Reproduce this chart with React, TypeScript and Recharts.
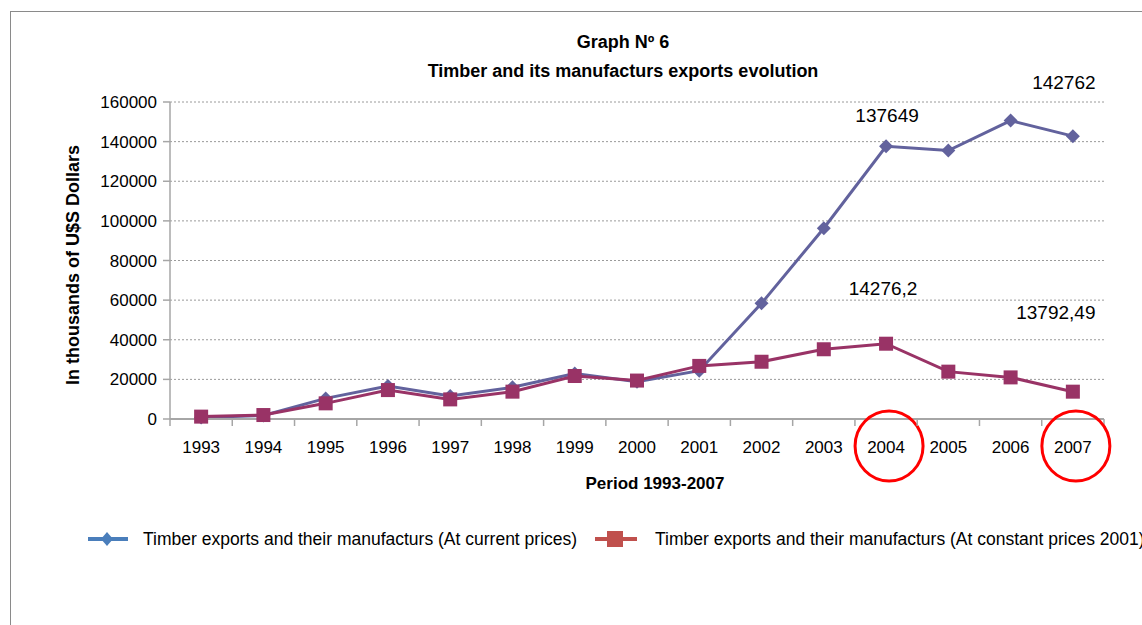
import React from 'react';
import { LineChart, Line, XAxis, YAxis, CartesianGrid, LabelList } from 'recharts';

const years = ['1993', '1994', '1995', '1996', '1997', '1998', '1999', '2000', '2001', '2002', '2003', '2004', '2005', '2006', '2007'];
const currentPrices = [800, 1800, 10400, 16600, 11600, 16000, 23000, 18800, 24400, 58400, 96300, 137649, 135500, 150600, 142762];
const constantPrices = [1200, 2000, 7900, 14600, 9900, 13800, 21700, 19400, 26800, 28900, 35200, 38000, 23900, 21000, 13792.49];
const yTicks = [0, 20000, 40000, 60000, 80000, 100000, 120000, 140000, 160000];
const currentLabels: Record<number, string> = { 11: '137649', 14: '142762' };
const constantLabels: Record<number, string> = { 11: '14276,2', 14: '13792,49' };
const circledYears = ['2004', '2007'];

const seriesCurrent = 'Timber exports and their manufacturs (At current prices)';
const seriesConstant = 'Timber exports and their manufacturs (At constant prices 2001)';

const data = years.map((y, i) => ({ year: y, current: currentPrices[i], constant: constantPrices[i] }));

const W = 1142;
const H = 625;
const M = { top: 102, right: 38, left: 0, bottom: 146 };
const Y_AXIS_W = 170;
const PLOT_W = W - M.left - M.right - Y_AXIS_W;
const BAND = PLOT_W / years.length;

const FONT = '"Liberation Sans", Arial, sans-serif';
const BLUE = '#62629D';
const RED = '#993366';

const XTick = (props: any) => {
  const { x, y, payload, index } = props;
  const half = BAND / 2;
  const circled = circledYears.includes(payload.value);
  return (
    <g>
      <line x1={x - half} x2={x - half} y1={y} y2={y + 7} stroke="#A6A6A6" strokeWidth={1.5} />
      {index === years.length - 1 && (
        <line x1={x + half} x2={x + half} y1={y} y2={y + 7} stroke="#A6A6A6" strokeWidth={1.5} />
      )}
      <text x={x} y={y + 28} textAnchor="middle" dy="0.36em" fontSize={17} fontFamily={FONT} fill="#000">
        {payload.value}
      </text>
      {circled && (
        <ellipse cx={x + 3} cy={y + 27} rx={34} ry={35} fill="none" stroke="#FF0000" strokeWidth={3} />
      )}
    </g>
  );
};

const diamondDot = (props: any) => {
  const { cx, cy, index } = props;
  const r = 7;
  return (
    <path key={`d-${index}`} d={`M${cx},${cy - r}L${cx + r},${cy}L${cx},${cy + r}L${cx - r},${cy}Z`} fill={BLUE} />
  );
};

const squareDot = (props: any) => {
  const { cx, cy, index } = props;
  const s = 7;
  return <rect key={`s-${index}`} x={cx - s} y={cy - s} width={2 * s} height={2 * s} fill={RED} />;
};

const makeLabel = (labels: Record<number, string>, offsets: Record<number, [number, number]>) => (props: any) => {
  const { x, y, index } = props;
  const t = labels[index];
  if (!t) return null;
  const [dx, dy] = offsets[index];
  return (
    <text x={x + dx} y={y + dy} textAnchor="middle" dy="0.36em" fontSize={19} fontFamily={FONT} fill="#000">
      {t}
    </text>
  );
};

const currentLabel = makeLabel(currentLabels, { 11: [1, -31], 14: [-9, -54] });
const constantLabel = makeLabel(constantLabels, { 11: [-3, -56], 14: [-17, -80] });

export default function App() {
  return (
    <div style={{ position: 'fixed', left: 0, top: 0, width: W, height: H, background: '#fff', overflow: 'hidden' }}>
      <div style={{ position: 'absolute', left: 10, top: 11, width: W, height: H, borderLeft: '1.5px solid #8a8a8a', borderTop: '1.5px solid #8a8a8a' }} />
      <div style={{ position: 'absolute', left: 0, width: 1246, top: 32, textAlign: 'center', fontFamily: FONT, fontWeight: 'bold', fontSize: 18, lineHeight: '20px' }}>
        Graph Nº 6
      </div>
      <div style={{ position: 'absolute', left: 0, width: 1246, top: 61, textAlign: 'center', fontFamily: FONT, fontWeight: 'bold', fontSize: 18, lineHeight: '20px' }}>
        Timber and its manufacturs exports evolution
      </div>
      <div style={{ position: 'absolute', left: 0, width: 1310, top: 474, textAlign: 'center', fontFamily: FONT, fontWeight: 'bold', fontSize: 17, lineHeight: '20px' }}>
        Period 1993-2007
      </div>
      <div style={{ position: 'absolute', left: 73 - 150, top: 265 - 10, width: 300, height: 20, textAlign: 'center', transform: 'rotate(-90deg)', fontFamily: FONT, fontWeight: 'bold', fontSize: 18, lineHeight: '20px' }}>
        In thousands of U$S Dollars
      </div>
      <LineChart width={W} height={H} data={data} margin={M} style={{ position: 'absolute', left: 0, top: 0 }}>
        <CartesianGrid vertical={false} stroke="#9a9a9a" strokeDasharray="2 2" />
        <XAxis
          dataKey="year"
          height={60}
          padding={{ left: BAND / 2, right: BAND / 2 }}
          tickSize={0}
          tickMargin={0}
          tickLine={false}
          axisLine={{ stroke: '#A6A6A6', strokeWidth: 2 }}
          tick={<XTick />}
          interval={0}
        />
        <YAxis
          width={Y_AXIS_W}
          domain={[0, 160000]}
          ticks={yTicks}
          interval={0}
          tickSize={7}
          tickMargin={6}
          axisLine={{ stroke: '#A6A6A6', strokeWidth: 1.5 }}
          tickLine={{ stroke: '#A6A6A6', strokeWidth: 1.5 }}
          tick={{ fontSize: 17, fontFamily: FONT, fill: '#000' }}
        />
        <Line dataKey="current" name={seriesCurrent} stroke={BLUE} strokeWidth={3} dot={diamondDot} activeDot={false} isAnimationActive={false}>
          <LabelList dataKey="current" content={currentLabel} />
        </Line>
        <Line dataKey="constant" name={seriesConstant} stroke={RED} strokeWidth={3} dot={squareDot} activeDot={false} isAnimationActive={false}>
          <LabelList dataKey="constant" content={constantLabel} />
        </Line>
      </LineChart>
      <div style={{ position: 'absolute', left: 0, top: 528, width: W, height: 22, fontFamily: FONT, fontSize: 17.5, lineHeight: '22px', whiteSpace: 'nowrap' }}>
        <svg style={{ position: 'absolute', left: 86, top: 0 }} width={44} height={22}>
          <line x1={2} x2={42} y1={11} y2={11} stroke="#4A7EBB" strokeWidth={4} />
          <path d="M21,4L27,11L21,18L15,11Z" fill="#4A7EBB" />
        </svg>
        <span style={{ position: 'absolute', left: 143, top: 0 }}>{seriesCurrent}</span>
        <svg style={{ position: 'absolute', left: 595, top: 0 }} width={44} height={22}>
          <line x1={0} x2={42} y1={11} y2={11} stroke="#C0504D" strokeWidth={4} />
          <rect x={12} y={3} width={16} height={16} fill="#C0504D" />
        </svg>
        <span style={{ position: 'absolute', left: 655, top: 0 }}>{seriesConstant}</span>
      </div>
    </div>
  );
}
